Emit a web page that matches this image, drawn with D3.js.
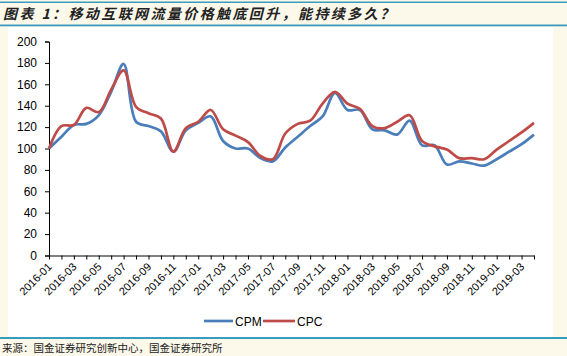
<!DOCTYPE html>
<html><head><meta charset="utf-8">
<script src="https://cdn.jsdelivr.net/npm/d3@7"></script>
<style>
html,body{margin:0;padding:0;background:#fcf8ea;}
svg{display:block;}
</style></head>
<body>
<svg id="c" width="567" height="356"></svg>
<script>
const months = ["2016-01","2016-02","2016-03","2016-04","2016-05","2016-06","2016-07","2016-08","2016-09","2016-10","2016-11","2016-12",
"2017-01","2017-02","2017-03","2017-04","2017-05","2017-06","2017-07","2017-08","2017-09","2017-10","2017-11","2017-12",
"2018-01","2018-02","2018-03","2018-04","2018-05","2018-06","2018-07","2018-08","2018-09","2018-10","2018-11","2018-12",
"2019-01","2019-02","2019-03","2019-04"];
const cpm = [100,111,122,123,131,153,179,125,121,116,97,117,124,130,107,100,100,91,88,101,111,121,130,152,136,136,118,117,113,126,103,103,85,88,86,84,90,97,104,113];
const cpc = [100,121,122,138,134,155,173,139,133,128,97,119,125,136,118,112,106,93,90,114,123,126,142,153,142,137,121,119,125,131,107,102,99,91,91,90,99,107,115,124];
const yTicks = [0,20,40,60,80,100,120,140,160,180,200];
const seriesNames = ["CPM","CPC"];
const seriesColors = ["#4a7ebb","#be4b48"];
const title = "图表 1：移动互联网流量价格触底回升，能持续多久？";
const source = "来源：国金证券研究创新中心，国金证券研究所";

const svg = d3.select("#c");
svg.append("rect").attr("x",8).attr("y",27).attr("width",545).attr("height",310).attr("fill","#ffffff");
svg.append("rect").attr("x",0).attr("y",1.5).attr("width",567).attr("height",1.5).attr("fill","#3a9bbd");
svg.append("rect").attr("x",0).attr("y",24.5).attr("width",567).attr("height",1.8).attr("fill","#3a9bbd");
svg.append("rect").attr("x",0).attr("y",337).attr("width",567).attr("height",2).attr("fill","#3a9bbd");

svg.append("text").attr("x",3).attr("y",19).text(title)
  .attr("font-family","'Noto Sans CJK SC'").attr("font-size",14).attr("font-weight","bold")
  .attr("font-style","italic").attr("letter-spacing","2.4px").attr("fill","#222");
svg.append("text").attr("x",2).attr("y",352).text(source)
  .attr("font-family","'Noto Sans CJK SC'").attr("font-size",10.5).attr("fill","#222");

const x = d3.scalePoint().domain(months).range([49,534]);
const y = d3.scaleLinear().domain([0,200]).range([255.5,41.5]);

const font = "'Liberation Sans', Arial, sans-serif";

const ya = svg.append("g").attr("transform","translate(49,0)")
  .call(d3.axisLeft(y).tickValues(yTicks).tickSize(4).tickPadding(8));
ya.select(".domain").attr("stroke","#000");
ya.selectAll(".tick line").attr("stroke","#000");
ya.selectAll("text").attr("font-family",font).attr("font-size",12).attr("fill","#000");

const xa = svg.append("g").attr("transform","translate(0,255.5)")
  .call(d3.axisBottom(x).tickValues(months).tickSize(4).tickSizeOuter(0)
    .tickFormat((d,i)=> i%2===0 ? d : ""));
xa.select(".domain").attr("stroke","#000");
xa.selectAll(".tick line").attr("stroke","#000");
xa.selectAll("text").attr("font-family",font).attr("font-size",11).attr("fill","#000")
  .attr("text-anchor","end").attr("dy",null)
  .attr("transform","translate(3,12) rotate(-45)");
xa.selectAll("text").attr("y",0).attr("x",0);

const line = d3.line().x((d,i)=>x(months[i])).y(d=>y(d)).curve(d3.curveCatmullRom.alpha(0.5));
[cpm,cpc].forEach((s,k)=>{
  svg.append("path").datum(s).attr("d",line).attr("fill","none")
    .attr("stroke",seriesColors[k]).attr("stroke-width",2.7).attr("stroke-linejoin","round");
});

const lg = [{x1:204,x2:233,tx:235},{x1:263,x2:295,tx:297}];
seriesNames.forEach((n,k)=>{
  svg.append("line").attr("x1",lg[k].x1).attr("x2",lg[k].x2).attr("y1",321).attr("y2",321)
    .attr("stroke",seriesColors[k]).attr("stroke-width",2.7);
  svg.append("text").attr("x",lg[k].tx).attr("y",325.5).text(n)
    .attr("font-family",font).attr("font-size",12).attr("fill","#000");
});
</script>
</body></html>
